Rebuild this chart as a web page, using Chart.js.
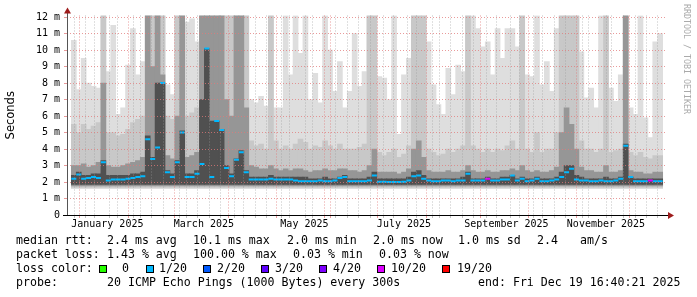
<!DOCTYPE html>
<html>
<head>
<meta charset="utf-8">
<script src="https://cdn.jsdelivr.net/npm/chart.js@4.4.1/dist/chart.umd.min.js"></script>
<style>
    body { margin: 0; background: #fff; }
    #wrap { position: relative; width: 697px; height: 297px; font-family: 'DejaVu Sans Mono', monospace; }
    #chart { position: absolute; left: 0; top: 0; }
    .t { position: absolute; font-size: 11.6px; line-height: 14px; white-space: pre; color: #000; }
    .box { position: absolute; top: 265px; width: 6px; height: 6px; border: 1px solid #000; }
    #credit { position: absolute; left: 682px; top: 4px; writing-mode: vertical-rl; font-size: 8.3px; color: #aaa; }
</style>
</head>
<body>
<div id="wrap">
    <canvas id="chart" width="697" height="297"></canvas>

    <div class="t" style="left:16px;top:233px">median rtt:</div>
    <div class="t" style="left:107px;top:233px">2.4 ms avg</div>
    <div class="t" style="left:193px;top:233px">10.1 ms max</div>
    <div class="t" style="left:287px;top:233px">2.0 ms min</div>
    <div class="t" style="left:373px;top:233px">2.0 ms now</div>
    <div class="t" style="left:458px;top:233px">1.0 ms sd</div>
    <div class="t" style="left:537px;top:233px">2.4</div>
    <div class="t" style="left:580px;top:233px">am/s</div>

    <div class="t" style="left:16px;top:247px">packet loss:</div>
    <div class="t" style="left:107px;top:247px">1.43 % avg</div>
    <div class="t" style="left:193px;top:247px">100.00 % max</div>
    <div class="t" style="left:293px;top:247px">0.03 % min</div>
    <div class="t" style="left:379px;top:247px">0.03 % now</div>

    <div class="t" style="left:16px;top:261px">loss color:</div>
    <div id="lossKeys"></div>

    <div class="t" style="left:16px;top:275px">probe:</div>
    <div class="t" style="left:107px;top:275px">20 ICMP Echo Pings (1000 Bytes) every 300s</div>
    <div class="t" style="left:478px;top:275px">end: Fri Dec 19 16:40:21 2025</div>

    <div id="credit">RRDTOOL / TOBI OETIKER</div>
</div>
<script>
// --- Data (one bucket = 3 days, 120 buckets, Dec 24 2024 .. Dec 19 2025) ---
const smokeMax = [
    10.6, 7.6, 9.5, 8.0, 7.8, 7.7, 12.1, 8.7, 11.5, 6.1,
    6.5, 9.1, 11.3, 8.5, 9.3, 12.1, 12.1, 12.1, 12.1, 7.9,
    7.3, 12.1, 12.1, 11.7, 11.9, 10.5, 12.1, 12.1, 12.1, 12.1,
    12.1, 12.1, 12.1, 12.1, 12.1, 12.1, 7.0, 6.8, 7.2, 6.6,
    12.1, 6.5, 6.5, 12.1, 8.5, 12.1, 9.8, 12.1, 7.0, 8.6,
    6.8, 12.1, 10.0, 7.5, 9.3, 6.5, 7.5, 11.0, 7.8, 8.7,
    12.1, 12.1, 8.4, 8.3, 7.0, 12.1, 4.9, 8.5, 9.5, 12.1,
    12.1, 12.1, 10.5, 7.9, 6.7, 6.1, 8.9, 7.3, 9.1, 8.7,
    12.1, 12.1, 11.3, 10.2, 10.5, 8.5, 11.3, 9.5, 11.3, 11.3,
    10.2, 12.1, 8.5, 8.4, 12.1, 7.9, 9.3, 7.5, 11.3, 12.1,
    12.1, 12.1, 12.1, 9.9, 7.1, 7.7, 6.5, 12.1, 12.1, 7.7,
    6.9, 8.5, 12.1, 6.5, 6.1, 12.1, 5.9, 4.7, 10.5, 11.0
];
const smokeHi = [
    5.5, 5.0, 5.5, 5.2, 5.4, 5.6, 12.1, 5.0, 5.0, 4.8,
    4.9, 5.2, 5.6, 5.8, 6.0, 12.1, 12.1, 12.1, 12.1, 6.0,
    5.8, 12.1, 12.1, 6.0, 6.2, 6.5, 12.1, 12.1, 12.1, 12.1,
    12.1, 12.1, 12.1, 12.1, 12.1, 12.1, 4.5, 4.2, 4.3, 4.0,
    12.1, 4.5, 4.0, 4.2, 4.0, 4.3, 4.6, 4.4, 4.0, 4.2,
    4.1, 4.5, 4.2, 4.0, 4.3, 4.0, 4.0, 4.0, 4.1, 4.3,
    12.1, 12.1, 3.8, 3.6, 3.8, 4.0, 3.5, 3.7, 4.2, 12.1,
    12.1, 12.1, 4.0, 3.8, 3.6, 3.7, 4.0, 3.8, 4.0, 4.2,
    12.1, 4.2, 4.0, 3.8, 4.0, 3.8, 4.0, 3.9, 4.2, 4.5,
    4.0, 12.1, 4.0, 3.8, 5.0, 3.8, 4.0, 4.0, 5.0, 12.1,
    12.1, 12.1, 12.1, 4.5, 4.0, 4.0, 3.8, 4.0, 12.1, 3.8,
    3.9, 4.0, 12.1, 3.8, 3.6, 3.8, 3.5, 3.4, 3.6, 3.6
];
const smokeMid = [
    3.0, 3.0, 3.1, 2.9, 3.0, 3.2, 8.0, 3.0, 2.9, 2.9,
    3.0, 3.1, 3.2, 3.3, 3.5, 12.1, 9.0, 12.1, 8.5, 3.6,
    3.4, 6.0, 12.1, 3.5, 3.6, 3.8, 12.1, 12.1, 12.1, 12.1,
    12.1, 7.0, 6.0, 12.1, 12.1, 6.5, 3.0, 2.9, 2.8, 2.8,
    3.0, 2.8, 2.7, 2.8, 2.7, 2.8, 2.8, 2.7, 2.6, 2.7,
    2.7, 2.8, 2.7, 2.7, 2.8, 2.8, 2.7, 2.7, 2.6, 2.7,
    3.0, 4.0, 2.6, 2.6, 2.6, 2.6, 2.5, 2.6, 2.8, 4.0,
    4.5, 3.5, 2.7, 2.6, 2.6, 2.6, 2.7, 2.6, 2.6, 2.7,
    3.0, 2.7, 2.6, 2.6, 2.7, 2.6, 2.6, 2.7, 2.7, 2.8,
    2.7, 3.0, 2.7, 2.6, 2.7, 2.6, 2.6, 2.7, 2.9, 5.0,
    6.5, 5.5, 4.0, 2.9, 2.7, 2.7, 2.6, 2.6, 3.0, 2.6,
    2.6, 2.7, 12.1, 2.7, 2.6, 2.6, 2.5, 2.5, 2.6, 2.6
];
const smokeDark = [
    2.4, 2.6, 2.4, 2.4, 2.5, 2.5, 3.3, 2.4, 2.4, 2.4,
    2.4, 2.4, 2.5, 2.5, 2.6, 4.8, 3.5, 8.0, 8.0, 2.7,
    2.5, 3.3, 5.1, 2.5, 2.5, 2.7, 7.0, 10.1, 5.7, 5.7,
    5.2, 3.0, 2.5, 3.4, 3.9, 2.7, 2.3, 2.3, 2.3, 2.3,
    2.4, 2.3, 2.3, 2.3, 2.3, 2.3, 2.3, 2.3, 2.2, 2.2,
    2.2, 2.3, 2.2, 2.2, 2.3, 2.4, 2.2, 2.2, 2.2, 2.2,
    2.3, 2.6, 2.2, 2.2, 2.2, 2.2, 2.2, 2.2, 2.3, 2.6,
    2.7, 2.4, 2.2, 2.2, 2.2, 2.2, 2.2, 2.2, 2.2, 2.3,
    2.6, 2.2, 2.2, 2.2, 2.3, 2.2, 2.2, 2.3, 2.3, 2.4,
    2.2, 2.3, 2.2, 2.2, 2.3, 2.2, 2.2, 2.2, 2.3, 2.6,
    3.0, 3.0, 2.4, 2.3, 2.2, 2.2, 2.2, 2.2, 2.3, 2.2,
    2.2, 2.3, 4.3, 2.3, 2.2, 2.2, 2.2, 2.2, 2.2, 2.2
];
const medianRtt = [
    2.2, 2.45, 2.2, 2.25, 2.3, 2.25, 3.2, 2.1, 2.15, 2.15,
    2.15, 2.2, 2.25, 2.3, 2.35, 4.6, 3.4, 4.1, 8.0, 2.6,
    2.3, 3.2, 5.0, 2.3, 2.3, 2.5, 3.1, 10.1, 2.3, 5.7,
    5.15, 2.85, 2.35, 3.35, 3.8, 2.6, 2.15, 2.15, 2.15, 2.15,
    2.2, 2.15, 2.15, 2.15, 2.15, 2.1, 2.05, 2.05, 2.05, 2.05,
    2.1, 2.05, 2.05, 2.1, 2.25, 2.3, 2.05, 2.05, 2.05, 2.05,
    2.1, 2.4, 2.02, 2.02, 2.0, 2.0, 2.0, 2.02, 2.1, 2.35,
    2.4, 2.2, 2.1, 2.05, 2.05, 2.1, 2.1, 2.05, 2.1, 2.1,
    2.5, 2.1, 2.1, 2.1, 2.2, 2.1, 2.1, 2.15, 2.15, 2.4,
    2.1, 2.2, 2.05, 2.1, 2.2, 2.05, 2.05, 2.1, 2.15, 2.3,
    2.6, 2.8, 2.15, 2.1, 2.1, 2.05, 2.05, 2.1, 2.05, 2.05,
    2.1, 2.2, 4.2, 2.3, 2.05, 2.05, 2.05, 2.1, 2.05, 2.05
];
// bottom of each smoke shade (max, hi, mid, dark)
const smokeFloor = [1.6, 1.68, 1.76, 1.86];
// buckets where the median has 10/20 loss
const halfLossBuckets = [84, 117];

// --- Axis ---
const monthStarts = [6.6, 37.6, 65.6, 96.6, 126.6, 157.6, 187.6, 218.6, 249.6, 279.6, 310.6, 340.6];
const monthLabels = ['January 2025', 'March 2025', 'May 2025', 'July 2025', 'September 2025', 'November 2025'];
const labelDays = [21.9, 80.7, 141.9, 202.5, 264.9, 325.5];
const firstWeek = 3.6;

const lossNames = ['0', '1/20', '2/20', '3/20', '4/20', '10/20', '19/20'];
const lossColors = ['#26ff00', '#00b8ff', '#0059ff', '#5e00ff', '#7e00ff', '#dd00ff', '#ff0000'];
const lossBoxX = [99, 146, 203, 261, 319, 377, 442];
const lossTextX = [122, 159, 217, 275, 333, 391, 457];

// --- Loss colour legend ---
const lossKeys = document.getElementById('lossKeys');
lossNames.forEach((name, i) => {
    const box = document.createElement('div');
    box.className = 'box';
    box.style.left = lossBoxX[i] + 'px';
    box.style.background = lossColors[i];
    lossKeys.appendChild(box);
    const txt = document.createElement('div');
    txt.className = 't';
    txt.style.left = lossTextX[i] + 'px';
    txt.style.top = '261px';
    txt.textContent = name;
    lossKeys.appendChild(txt);
});

const days = medianRtt.map((_, i) => i * 3 + 1.5);
const floatBars = (tops, floor) => tops.map((v, i) => ({ x: days[i], y: [floor, v] }));

const isNear = (a, list) => list.some(d => Math.abs(a - d) < 1e-6);

const xTickValues = [];
for (let d = firstWeek; d < 360; d += 7) xTickValues.push(+d.toFixed(2));
monthStarts.forEach(d => xTickValues.push(d));
labelDays.forEach(d => xTickValues.push(d));
xTickValues.sort((a, b) => a - b);

const yTickValues = [];
for (let v = 0; v <= 12; v += 0.5) yTickValues.push(v);

const RED_GRID = 'rgba(225, 120, 120, 0.75)';
const GREY_GRID = 'rgba(150, 150, 150, 0.6)';

function xGridColor(ctx) {
    const v = ctx.tick && ctx.tick.value;
    if (isNear(v, labelDays)) return 'rgba(0,0,0,0)';
    if (isNear(v, monthStarts)) return RED_GRID;
    return GREY_GRID;
}
function yGridColor(ctx) {
    const v = ctx.tick && ctx.tick.value;
    if (v === 0) return 'rgba(0,0,0,0)';
    return Number.isInteger(v) ? RED_GRID : GREY_GRID;
}

// plot is 600px wide for 120 buckets -> 5px per bar
const barBase = { type: 'bar', grouped: false, barThickness: 5, borderWidth: 0 };

// --- Axis lines and arrows ---
const axisArrows = {
    id: 'axisArrows',
    afterDraw(chart) {
        const { ctx, chartArea: a } = chart;
        ctx.save();
        ctx.lineWidth = 1;
        ctx.strokeStyle = '#555';
        ctx.beginPath();
        ctx.moveTo(a.left + 0.5, a.bottom);
        ctx.lineTo(a.left + 0.5, a.top - 4);
        ctx.stroke();
        ctx.strokeStyle = '#000';
        ctx.beginPath();
        ctx.moveTo(a.left - 4, a.bottom + 0.5);
        ctx.lineTo(a.right + 2, a.bottom + 0.5);
        ctx.stroke();
        ctx.fillStyle = '#9e1c1c';
        ctx.beginPath();
        ctx.moveTo(a.left + 0.5, a.top - 8);
        ctx.lineTo(a.left - 3, a.top - 2);
        ctx.lineTo(a.left + 4, a.top - 2);
        ctx.closePath();
        ctx.fill();
        ctx.beginPath();
        ctx.moveTo(a.right + 7, a.bottom + 0.5);
        ctx.lineTo(a.right + 1, a.bottom - 3);
        ctx.lineTo(a.right + 1, a.bottom + 4);
        ctx.closePath();
        ctx.fill();
        ctx.restore();
    }
};

new Chart(document.getElementById('chart'), {
    type: 'bar',
    data: {
        datasets: [
            {
                type: 'line', label: 'median rtt', order: 0,
                data: medianRtt.map((v, i) => ({ x: days[i], y: v })),
                showLine: false, pointStyle: 'line', pointRadius: 2.5, pointBorderWidth: 2,
                pointBorderColor: c => halfLossBuckets.includes(c.dataIndex) ? lossColors[5] : lossColors[1]
            },
            { ...barBase, order: 1, data: floatBars(smokeDark, smokeFloor[3]), backgroundColor: '#505050' },
            { ...barBase, order: 2, data: floatBars(smokeMid, smokeFloor[2]), backgroundColor: '#969696' },
            { ...barBase, order: 3, data: floatBars(smokeHi, smokeFloor[1]), backgroundColor: '#c8c8c8' },
            { ...barBase, order: 4, data: floatBars(smokeMax, smokeFloor[0]), backgroundColor: '#dedede' }
        ]
    },
    options: {
        responsive: false,
        animation: false,
        events: [],
        layout: { padding: { top: 15.5, right: 30, left: 0, bottom: 0 } },
        plugins: { legend: { display: false }, tooltip: { enabled: false } },
        scales: {
            x: {
                type: 'linear', min: 0, max: 360,
                afterBuildTicks: s => { s.ticks = xTickValues.map(v => ({ value: v })); },
                afterFit: s => { s.height = 82; },
                grid: { z: 1, color: xGridColor, tickColor: xGridColor, tickLength: 3, lineWidth: 1 },
                border: { display: false, dash: [1, 2] },
                ticks: {
                    autoSkip: false, maxRotation: 0, padding: 0, color: '#000',
                    font: { family: 'DejaVu Sans Mono', size: 10 },
                    callback: v => {
                        const k = labelDays.findIndex(d => Math.abs(d - v) < 1e-6);
                        return k >= 0 ? monthLabels[k] : '';
                    }
                }
            },
            y: {
                min: 0, max: 12.1,
                afterBuildTicks: s => { s.ticks = yTickValues.map(v => ({ value: v })); },
                afterFit: s => { s.width = 67; },
                grid: { z: 1, color: yGridColor, tickColor: yGridColor, tickLength: 3, lineWidth: 1 },
                border: { display: false, dash: [1, 2] },
                ticks: {
                    padding: 4, color: '#000',
                    font: { family: 'DejaVu Sans Mono', size: 10 },
                    callback: v => v === 0 ? '0' : (Number.isInteger(v) ? v + ' m' : '')
                },
                title: {
                    display: true, text: 'Seconds', color: '#000',
                    font: { family: 'DejaVu Sans', size: 11.5 },
                    padding: { top: 4, bottom: 0 }
                }
            }
        }
    },
    plugins: [axisArrows]
});
</script>
</body>
</html>
